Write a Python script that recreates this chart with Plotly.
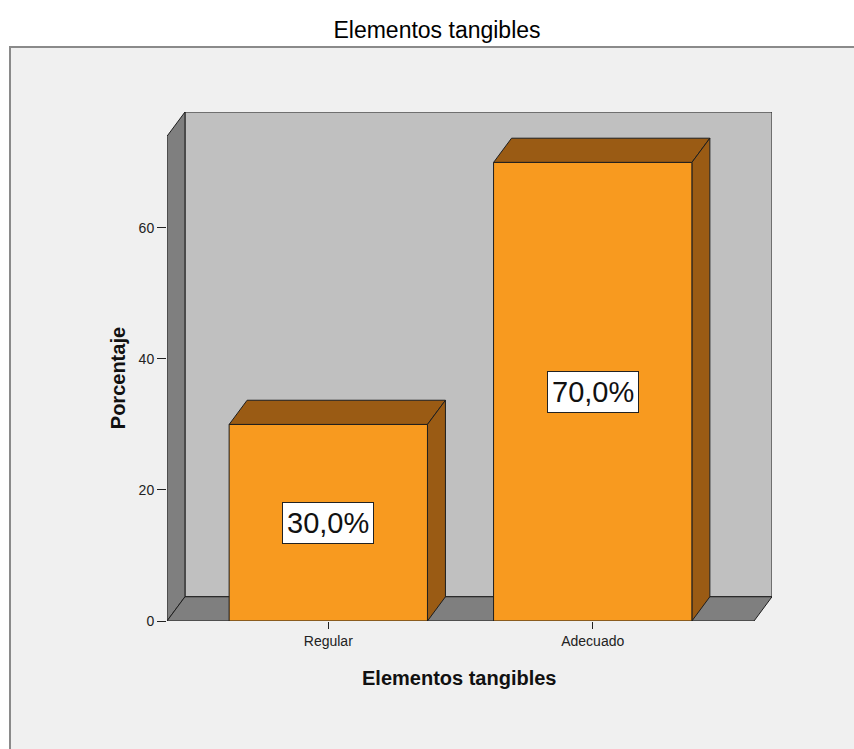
import plotly.graph_objects as go

# Data
categories = ["Regular", "Adecuado"]
percentages = [30.0, 70.0]
y_ticks = [0, 20, 40, 60]
chart_title = "Elementos tangibles"
x_title = "Elementos tangibles"
y_title = "Porcentaje"

# Styling / 3D box geometry (in axis units)
ORANGE = "#F89A1F"
BROWN = "#9A5B14"
WALL_BACK = "#C0C0C0"
WALL_SIDE = "#7F7F7F"
FRAME_BG = "#F0F0F0"
EDGE = "#1E1E1E"
FONT = "Liberation Sans, Arial, sans-serif"

BAR_W = 0.75
X_LO, X_HI = -0.61, 1.61
Y_TOP = 74.0
DX, DY = 0.068, 3.7   # depth offset of the 3D box


def poly(points):
    return "M " + " L ".join(f"{x},{y}" for x, y in points) + " Z"


shapes = []

# Outer frame
shapes.append(dict(type="rect", xref="paper", yref="paper",
                   x0=-0.2595, x1=1.3, y0=-0.6, y1=1.1277,
                   fillcolor=FRAME_BG, line=dict(color="#8A8A8A", width=2),
                   layer="below"))

# Back wall
shapes.append(dict(type="path", xref="x", yref="y", layer="below",
                   path=poly([(X_LO + DX, DY), (X_HI + DX, DY),
                              (X_HI + DX, Y_TOP + DY), (X_LO + DX, Y_TOP + DY)]),
                   fillcolor=WALL_BACK, line=dict(color=EDGE, width=1)))
# Left wall
shapes.append(dict(type="path", xref="x", yref="y", layer="below",
                   path=poly([(X_LO, 0), (X_LO + DX, DY),
                              (X_LO + DX, Y_TOP + DY), (X_LO, Y_TOP)]),
                   fillcolor=WALL_SIDE, line=dict(color=EDGE, width=1)))
# Floor
shapes.append(dict(type="path", xref="x", yref="y", layer="below",
                   path=poly([(X_LO, 0), (X_HI, 0),
                              (X_HI + DX, DY), (X_LO + DX, DY)]),
                   fillcolor=WALL_SIDE, line=dict(color=EDGE, width=1)))

# Top and side faces of each bar
for i, v in enumerate(percentages):
    xl, xr = i - BAR_W / 2, i + BAR_W / 2
    shapes.append(dict(type="path", xref="x", yref="y", layer="below",
                       path=poly([(xl, v), (xr, v), (xr + DX, v + DY), (xl + DX, v + DY)]),
                       fillcolor=BROWN, line=dict(color=EDGE, width=1)))
    shapes.append(dict(type="path", xref="x", yref="y", layer="below",
                       path=poly([(xr, 0), (xr + DX, DY), (xr + DX, v + DY), (xr, v)]),
                       fillcolor=BROWN, line=dict(color=EDGE, width=1)))

fig = go.Figure()
fig.add_trace(go.Bar(
    x=list(range(len(categories))), y=percentages, width=BAR_W,
    marker=dict(color=ORANGE, line=dict(color=EDGE, width=1)),
    hoverinfo="skip", showlegend=False,
))

annotations = []
for i, v in enumerate(percentages):
    label = f"{v:.1f}".replace(".", ",") + "%"
    annotations.append(dict(
        x=i, y=v / 2, xref="x", yref="y", text=label, showarrow=False,
        font=dict(family=FONT, size=29, color="#111"),
        bgcolor="white", bordercolor="#222", borderwidth=1, borderpad=4,
        xanchor="center", yanchor="middle",
    ))

annotations.append(dict(
    x=0.484, y=-0.112, xref="paper", yref="paper", text=f"<b>{x_title}</b>",
    showarrow=False, font=dict(family=FONT, size=20, color="#111"),
    xanchor="center", yanchor="middle",
))
annotations.append(dict(
    x=-0.081, y=0.477, xref="paper", yref="paper", text=f"<b>{y_title}</b>",
    showarrow=False, textangle=-90, font=dict(family=FONT, size=20, color="#111"),
    xanchor="center", yanchor="middle",
))

fig.update_layout(
    width=854, height=749,
    margin=dict(l=167, r=82, t=112, b=128),
    paper_bgcolor="white", plot_bgcolor="rgba(0,0,0,0)",
    title=dict(text=chart_title, x=437 / 854, y=1 - 30 / 749,
               xref="container", yref="container",
               xanchor="center", yanchor="middle",
               font=dict(family=FONT, size=23, color="#000")),
    shapes=shapes, annotations=annotations,
    xaxis=dict(range=[X_LO, X_HI + DX], tickvals=list(range(len(categories))),
               ticktext=categories, showgrid=False, zeroline=False, showline=False,
               ticks="outside", ticklen=7, tickcolor="#222", tickwidth=1,
               tickfont=dict(family=FONT, size=14, color="#222"), fixedrange=True),
    yaxis=dict(range=[0, Y_TOP + DY], tickvals=y_ticks, showgrid=False,
               zeroline=False, showline=False, ticks="outside", ticklen=9,
               tickcolor="#222", tickwidth=1,
               tickfont=dict(family=FONT, size=14, color="#222"), fixedrange=True),
    bargap=0.25,
)

fig.write_html("out.html")
